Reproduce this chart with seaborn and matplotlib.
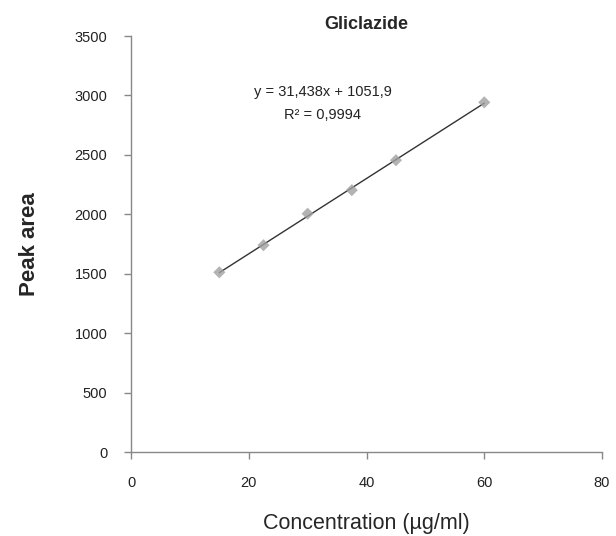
import pandas as pd
import seaborn as sns
import matplotlib.pyplot as plt

# Calibration data
CONC = [15, 22.5, 30, 37.5, 45, 60]
AREA = [1512, 1740, 2005, 2203, 2455, 2942]
EQ_TEXT = "y = 31,438x + 1051,9"
R2_TEXT = "R² = 0,9994"
X_TICKS = [0, 20, 40, 60, 80]
Y_TICKS = [0, 500, 1000, 1500, 2000, 2500, 3000, 3500]

df = pd.DataFrame({"conc": CONC, "area": AREA})

sns.set_style("white")
plt.rcParams["font.family"] = ["Liberation Sans", "DejaVu Sans"]

fig = plt.figure(figsize=(6.16, 5.36), dpi=100)
ax = fig.add_axes([0.2127, 0.1567, 0.7646, 0.7761])

sns.regplot(data=df, x="conc", y="area", ax=ax, ci=None, truncate=True,
            marker="D",
            scatter_kws={"s": 38, "color": "#a0a0a0", "edgecolor": "none", "zorder": 3},
            line_kws={"color": "#333333", "lw": 1.0, "zorder": 2})

ax.set_xlim(0, 80)
ax.set_ylim(0, 3500)
ax.set_xticks(X_TICKS)
ax.set_yticks(Y_TICKS)

for s in ["top", "right"]:
    ax.spines[s].set_visible(False)
for s in ["left", "bottom"]:
    ax.spines[s].set_color("#888888")
    ax.spines[s].set_linewidth(1.0)
ax.tick_params(axis="both", direction="out", length=5, width=1, color="#888888",
               labelsize=10.5, labelcolor="#222222", bottom=True, left=True)
ax.tick_params(axis="x", pad=12)
ax.tick_params(axis="y", pad=12)

ax.set_title("Gliclazide", fontsize=13, fontweight="bold", pad=5)
ax.set_xlabel("Concentration (µg/ml)", fontsize=15.5, labelpad=17)
ax.set_ylabel("Peak area", fontsize=16, fontweight="bold", labelpad=25)

ax.text(32.6, 3030, EQ_TEXT, ha="center", va="center", fontsize=10.5, color="#222222")
ax.text(32.6, 2835, R2_TEXT, ha="center", va="center", fontsize=10.5, color="#222222")

fig.savefig("out.png", dpi=100)
